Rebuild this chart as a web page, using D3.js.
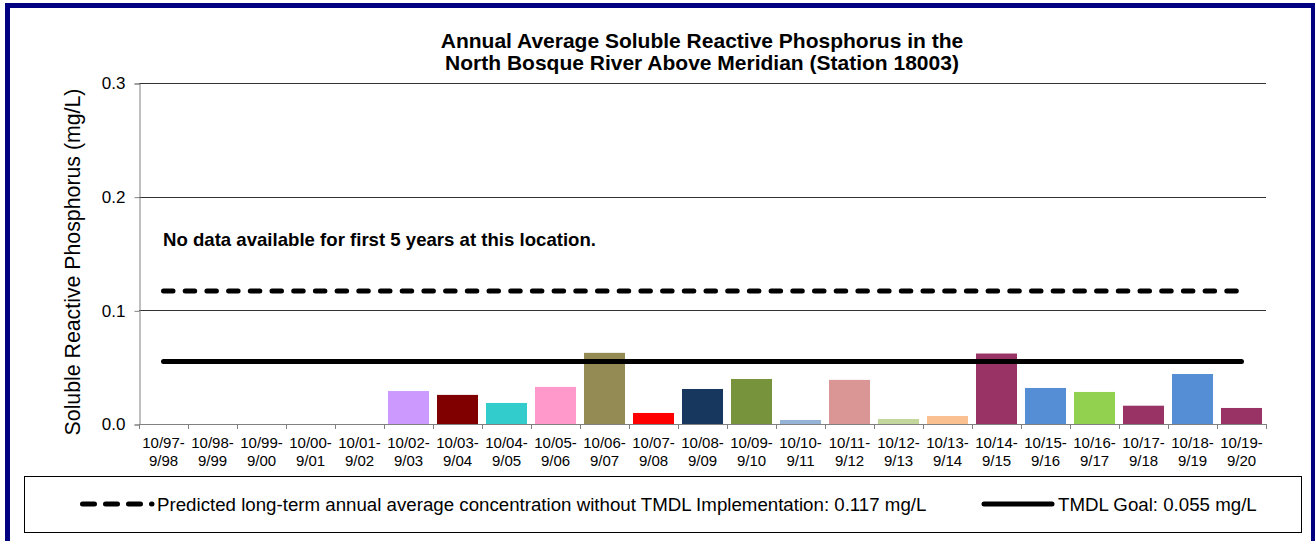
<!DOCTYPE html>
<html><head><meta charset="utf-8">
<script src="https://cdn.jsdelivr.net/npm/d3@7"></script>
<style>html,body{margin:0;padding:0;background:#fff;}svg{display:block;}</style>
</head><body>
<svg id="c" width="1315" height="541"></svg>
<script>
const categories = ["10/97-9/98","10/98-9/99","10/99-9/00","10/00-9/01","10/01-9/02","10/02-9/03","10/03-9/04","10/04-9/05","10/05-9/06","10/06-9/07","10/07-9/08","10/08-9/09","10/09-9/10","10/10-9/11","10/11-9/12","10/12-9/13","10/13-9/14","10/14-9/15","10/15-9/16","10/16-9/17","10/17-9/18","10/18-9/19","10/19-9/20"];
const values = [null,null,null,null,null,0.029,0.0256,0.0185,0.0326,0.0626,0.0097,0.0308,0.0396,0.0035,0.0388,0.0044,0.007,0.062,0.0317,0.0282,0.0161,0.044,0.0141];
const barColors = ["#fff","#fff","#fff","#fff","#fff","#CC99FF","#800000","#33CCCC","#FF99CC","#948A54","#FF0000","#17375E","#77933C","#95B3D7","#D99694","#C3D69B","#FAC090","#993366","#558ED5","#92D050","#993366","#558ED5","#993366"];
const yTicks = [0.0, 0.1, 0.2, 0.3];
const predicted = 0.117;
const goal = 0.055;
const titleLines = ["Annual Average Soluble Reactive Phosphorus in the","North Bosque River Above Meridian (Station 18003)"];
const yLabel = "Soluble Reactive Phosphorus (mg/L)";
const note = "No data available for first 5 years at this location.";
const legendPredicted = "Predicted long-term annual average concentration without TMDL Implementation: 0.117 mg/L";
const legendGoal = "TMDL Goal: 0.055 mg/L";

const svg = d3.select("#c");
const font = "'Liberation Sans', Arial, sans-serif";
const L = 139, R = 1266, T = 83, B = 424;

const x = d3.scaleBand().domain(categories).range([L, R]).paddingInner(0.163).paddingOuter(0.0815);
const y = d3.scaleLinear().domain([0, 0.3]).range([B, T]);

// border
svg.append("rect").attr("x", 7.5).attr("y", 5.5).attr("width", 1306).attr("height", 545)
  .attr("fill", "none").attr("stroke", "#000080").attr("stroke-width", 5);

// title
svg.append("text").attr("x", 702).attr("y", 48).attr("text-anchor", "middle")
  .attr("font-family", font).attr("font-weight", "bold").attr("font-size", 21)
  .selectAll("tspan").data(titleLines).join("tspan")
  .attr("x", 702).attr("dy", (d, i) => i ? 22 : 0).text(d => d);

// gridlines
svg.append("g").selectAll("line").data(yTicks.filter(d => d > 0)).join("line")
  .attr("x1", L).attr("x2", R).attr("y1", d => Math.round(y(d)) + 0.5).attr("y2", d => Math.round(y(d)) + 0.5)
  .attr("stroke", "#333").attr("stroke-width", 1);

// y axis
const yAxis = d3.axisLeft(y).tickValues(yTicks).tickFormat(d3.format(".1f")).tickSize(5).tickPadding(9);
const gy = svg.append("g").attr("transform", `translate(${L + 0.5},0.5)`).call(yAxis);
gy.select(".domain").attr("stroke", "#808080");
gy.selectAll(".tick line").attr("stroke", "#808080");
gy.selectAll("text").attr("font-family", font).attr("font-size", 17).attr("fill", "#000");

// bars
svg.append("g").selectAll("rect").data(categories.map((c, i) => ({c, v: values[i], col: barColors[i]})).filter(d => d.v != null))
  .join("rect")
  .attr("x", d => x(d.c)).attr("width", x.bandwidth())
  .attr("y", d => y(d.v)).attr("height", d => y(0) - y(d.v))
  .attr("fill", d => d.col);

// x axis
const off = (x.step() - x.bandwidth()) / 2;
const bounds = categories.map(c => x(c) - off).concat([x(categories[categories.length - 1]) + x.bandwidth() + off]);
const gx = svg.append("g");
gx.append("line").attr("x1", L).attr("x2", R).attr("y1", B + 0.5).attr("y2", B + 0.5).attr("stroke", "#808080");
gx.selectAll("line.t").data(bounds).join("line").attr("class", "t")
  .attr("x1", d => Math.round(d) + 0.5).attr("x2", d => Math.round(d) + 0.5).attr("y1", B).attr("y2", B + 5).attr("stroke", "#808080");
const lab = gx.selectAll("text").data(categories).join("text")
  .attr("text-anchor", "middle").attr("font-family", font).attr("font-size", 15);
lab.append("tspan").attr("x", d => x(d) + x.bandwidth() / 2).attr("y", 448).text(d => d.split("-")[0] + "-");
lab.append("tspan").attr("x", d => x(d) + x.bandwidth() / 2).attr("y", 466).text(d => d.split("-")[1]);

// reference lines
const x0 = x(categories[0]) + x.bandwidth() / 2, x1 = x(categories[categories.length - 1]) + x.bandwidth() / 2;
svg.append("line").attr("x1", x0).attr("x2", x1).attr("y1", y(predicted)).attr("y2", y(predicted))
  .attr("stroke", "#000").attr("stroke-width", 5).attr("stroke-dasharray", "9.5,12.2").attr("stroke-linecap", "round");
svg.append("line").attr("x1", x0).attr("x2", x1).attr("y1", y(goal)).attr("y2", y(goal))
  .attr("stroke", "#000").attr("stroke-width", 5).attr("stroke-linecap", "round");

// note
svg.append("text").attr("x", 163).attr("y", 246).attr("font-family", font).attr("font-weight", "bold")
  .attr("font-size", 18.6).text(note);

// y label
svg.append("text").attr("transform", `translate(80,262) rotate(-90)`).attr("text-anchor", "middle")
  .attr("font-family", font).attr("font-size", 21.3).text(yLabel);

// legend
svg.append("rect").attr("x", 24.5).attr("y", 476.5).attr("width", 1277).attr("height", 56)
  .attr("fill", "none").attr("stroke", "#000").attr("stroke-width", 1);
svg.append("line").attr("x1", 82.5).attr("x2", 152).attr("y1", 504).attr("y2", 504)
  .attr("stroke", "#000").attr("stroke-width", 5).attr("stroke-dasharray", "12,11").attr("stroke-linecap", "round");
svg.append("text").attr("x", 157).attr("y", 510.5).attr("font-family", font).attr("font-size", 18.7).text(legendPredicted);
svg.append("line").attr("x1", 984).attr("x2", 1052).attr("y1", 504).attr("y2", 504)
  .attr("stroke", "#000").attr("stroke-width", 5).attr("stroke-linecap", "round");
svg.append("text").attr("x", 1058).attr("y", 510.5).attr("font-family", font).attr("font-size", 18.7).text(legendGoal);
</script>
</body></html>
